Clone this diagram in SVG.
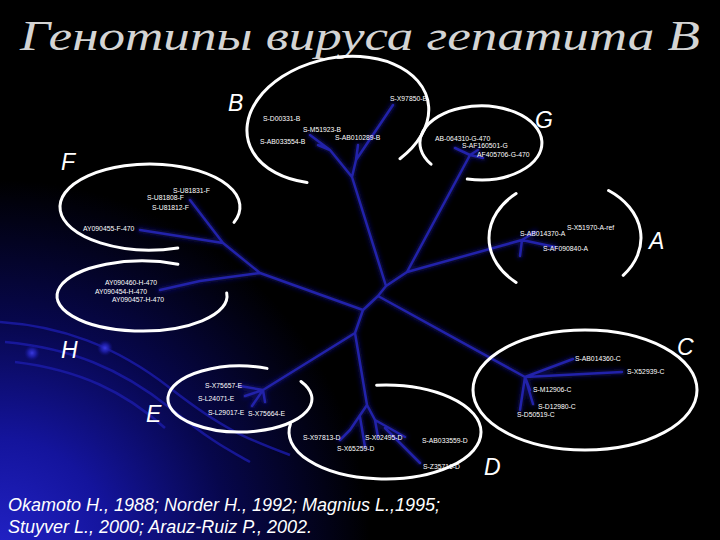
<svg xmlns="http://www.w3.org/2000/svg" width="720" height="540" viewBox="0 0 720 540">
<defs>
<radialGradient id="bg" cx="0" cy="550" r="370" gradientUnits="userSpaceOnUse">
<stop offset="0" stop-color="#2222c6"/>
<stop offset="0.3" stop-color="#14149c"/>
<stop offset="0.62" stop-color="#07074c"/>
<stop offset="1" stop-color="#000000"/>
</radialGradient>
<radialGradient id="dot">
<stop offset="0" stop-color="#3a3ae0"/>
<stop offset="0.5" stop-color="#2020b0" stop-opacity="0.8"/>
<stop offset="1" stop-color="#101080" stop-opacity="0"/>
</radialGradient>
<filter id="blur" x="-20%" y="-20%" width="140%" height="140%"><feGaussianBlur stdDeviation="2"/></filter>
<style>
.lbl{font-family:"Liberation Sans",Arial,sans-serif;font-size:6.8px;fill:#ffffff}
.gt{font-family:"Liberation Sans",Arial,sans-serif;font-style:italic;font-size:23px;fill:#ffffff}
.ell{fill:none;stroke:#ffffff;stroke-width:3;stroke-linecap:round}
.tr{fill:none;stroke:#2222aa;stroke-width:2.5;stroke-linecap:round;stroke-linejoin:round}
.trg{fill:none;stroke:#14148e;stroke-width:6;stroke-linecap:round;stroke-linejoin:round;opacity:0.5}
.deco{fill:none;stroke:#1c1caa;stroke-width:2.5;opacity:0.8}
.ref{font-family:"Liberation Sans",Arial,sans-serif;font-style:italic;font-size:17.5px;fill:#ffffff}
</style>
</defs>
<rect x="0" y="0" width="720" height="540" fill="#000"/>
<rect x="0" y="0" width="720" height="540" fill="url(#bg)"/>
<g id="decoration">
<path class="deco" d="M0,322 C60,326 115,345 170,388 S250,440 290,455"/>
<path class="deco" d="M5,342 C70,348 120,368 170,408 S230,450 250,462" opacity="0.6"/>
<path class="deco" d="M15,362 C80,370 125,392 165,428" opacity="0.5"/>
<circle cx="32" cy="353" r="8" fill="url(#dot)"/>
<circle cx="105" cy="348" r="8" fill="url(#dot)"/>
</g>
<text id="title" x="20" y="50" font-family="Liberation Serif, 'Times New Roman', serif" font-style="italic" font-size="43" fill="#d4d4d4" textLength="680" lengthAdjust="spacingAndGlyphs">Генотипы вируса гепатита В</text>
<g id="connectors">
<g filter="url(#blur)">
<path class="trg" d="M363,310 L378,296 L386,286 L352,177 M352,177 L330,150 L310,135 M330,150 L318,145 M352,177 L356,160 L358,145 M356,160 L393,105 M386,286 L407,272 L470,155 M470,155 L455,148 M470,155 L478,150 M470,155 L483,158 M407,272 L522,240 L535,232 M522,240 L555,247 M522,240 L520,256 M378,296 L525,377 L573,359 M525,377 L622,372 M525,377 L530,390 M525,377 L533,404 M525,377 L520,410 M363,310 L260,273 L223,243 L190,200 M223,243 L140,230 M260,273 L200,281 L160,290 M363,310 L355,333 L263,390 M263,390 L240,386 M263,390 L245,396 M263,390 L252,406 M263,390 L265,402 M355,333 L367,405 L350,430 L340,440 M367,405 L375,420 L378,437 M375,420 L405,437 M385,428 L420,463 M360,417 L365,447"/>
</g>
<path class="tr" d="M363,310 L378,296 L386,286 L352,177 M352,177 L330,150 L310,135 M330,150 L318,145 M352,177 L356,160 L358,145 M356,160 L393,105 M386,286 L407,272 L470,155 M470,155 L455,148 M470,155 L478,150 M470,155 L483,158 M407,272 L522,240 L535,232 M522,240 L555,247 M522,240 L520,256 M378,296 L525,377 L573,359 M525,377 L622,372 M525,377 L530,390 M525,377 L533,404 M525,377 L520,410 M363,310 L260,273 L223,243 L190,200 M223,243 L140,230 M260,273 L200,281 L160,290 M363,310 L355,333 L263,390 M263,390 L240,386 M263,390 L245,396 M263,390 L252,406 M263,390 L265,402 M355,333 L367,405 L350,430 L340,440 M367,405 L375,420 L378,437 M375,420 L405,437 M385,428 L420,463 M360,417 L365,447"/>
</g>
<g id="genotype-B">
<path class="ell" d="M400,158.7 A92 62 -12 1 0 307,182.5"/>
<text class="gt" x="228" y="111">B</text>
<text class="lbl" x="390" y="101">S-X97850-B</text>
<text class="lbl" x="263" y="121">S-D00331-B</text>
<text class="lbl" x="303" y="132">S-M51923-B</text>
<text class="lbl" x="335" y="140">S-AB010289-B</text>
<text class="lbl" x="260" y="144">S-AB033554-B</text>
</g>
<g id="genotype-G">
<path class="ell" d="M431,164.2 A61 37 0 1 1 467.3,179"/>
<text class="gt" x="535" y="128">G</text>
<text class="lbl" x="435" y="141">AB-064310-G-470</text>
<text class="lbl" x="462" y="148">S-AF160501-G</text>
<text class="lbl" x="477" y="157">AF405706-G-470</text>
</g>
<g id="genotype-F">
<path class="ell" d="M177.8,247.9 A90 43 0 1 1 234,222.4"/>
<text class="gt" x="61" y="170">F</text>
<text class="lbl" x="173" y="193">S-U81831-F</text>
<text class="lbl" x="147" y="200">S-U81808-F</text>
<text class="lbl" x="152" y="210">S-U81812-F</text>
<text class="lbl" x="83" y="231">AY090455-F-470</text>
</g>
<g id="genotype-A">
<path class="ell" d="M516.1,282.4 A76 58 0 0 1 516.1,193.6"/>
<path class="ell" d="M608.6,190.5 A76 58 0 0 1 623.2,275.3"/>
<text class="gt" x="649" y="249">A</text>
<text class="lbl" x="567" y="230">S-X51970-A-ref</text>
<text class="lbl" x="520" y="236">S-AB014370-A</text>
<text class="lbl" x="543" y="251">S-AF090840-A</text>
</g>
<g id="genotype-H">
<path class="ell" d="M226.7,293 A85 35 0 1 1 177.9,264.3"/>
<text class="gt" x="61" y="358">H</text>
<text class="lbl" x="105" y="285">AY090460-H-470</text>
<text class="lbl" x="95" y="294">AY090454-H-470</text>
<text class="lbl" x="112" y="302">AY090457-H-470</text>
</g>
<g id="genotype-C">
<ellipse class="ell" cx="585" cy="390" rx="112" ry="60"/>
<text class="gt" x="677" y="355">C</text>
<text class="lbl" x="575" y="361">S-AB014360-C</text>
<text class="lbl" x="627" y="374">S-X52939-C</text>
<text class="lbl" x="533" y="392">S-M12906-C</text>
<text class="lbl" x="538" y="409">S-D12980-C</text>
<text class="lbl" x="517" y="417">S-D50519-C</text>
</g>
<g id="genotype-E">
<path class="ell" d="M301,381.5 A72 33 0 1 1 267,368.4"/>
<text class="gt" x="146" y="422">E</text>
<text class="lbl" x="205" y="388">S-X75657-E</text>
<text class="lbl" x="198" y="401">S-L24071-E</text>
<text class="lbl" x="208" y="415">S-L29017-E</text>
<text class="lbl" x="248" y="416">S-X75664-E</text>
</g>
<g id="genotype-D">
<path class="ell" d="M376.6,385.2 A96 47 0 1 1 290.5,423.8"/>
<text class="gt" x="484" y="475">D</text>
<text class="lbl" x="303" y="440">S-X97813-D</text>
<text class="lbl" x="365" y="440">S-X02495-D</text>
<text class="lbl" x="337" y="451">S-X65259-D</text>
<text class="lbl" x="422" y="443">S-AB033559-D</text>
<text class="lbl" x="423" y="469">S-Z35716-D</text>
</g>
<g id="references">
<text class="ref" x="8" y="511" textLength="432" lengthAdjust="spacingAndGlyphs">Okamoto H., 1988; Norder H., 1992; Magnius L.,1995;</text>
<text class="ref" x="8" y="533" textLength="304" lengthAdjust="spacingAndGlyphs">Stuyver L., 2000; Arauz-Ruiz P., 2002.</text>
</g>
</svg>
